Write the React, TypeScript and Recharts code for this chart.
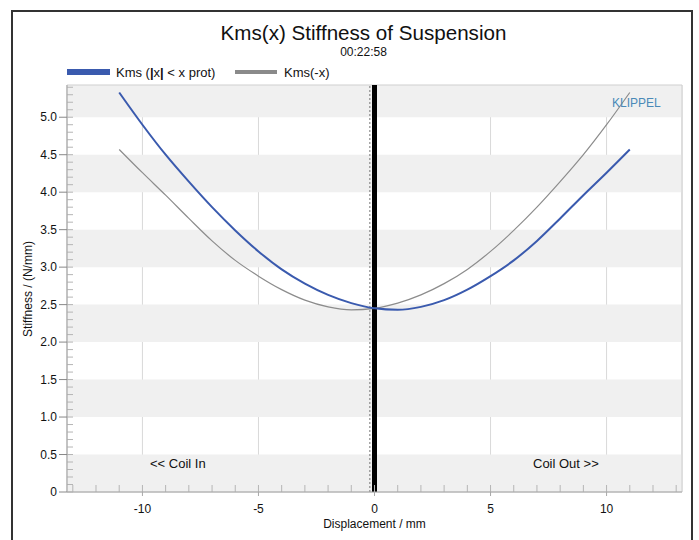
import React from "react";
import {
  LineChart,
  Line,
  XAxis,
  YAxis,
  CartesianGrid,
  ReferenceArea,
  ReferenceLine,
} from "recharts";

// ---- data ----
const displacement = [-11, -10, -9, -8, -7, -6, -5, -4, -3, -2, -1, 0, 1, 2, 3, 4, 5, 6, 7, 8, 9, 10, 11];
const kmsProt = [5.33, 4.9, 4.5, 4.14, 3.8, 3.49, 3.21, 2.97, 2.78, 2.63, 2.52, 2.45, 2.43, 2.47, 2.56, 2.7, 2.88, 3.09, 3.35, 3.65, 3.96, 4.26, 4.57];
const kmsMirror = [4.57, 4.26, 3.96, 3.65, 3.35, 3.09, 2.88, 2.7, 2.56, 2.47, 2.43, 2.45, 2.52, 2.63, 2.78, 2.97, 3.21, 3.49, 3.8, 4.14, 4.5, 4.9, 5.33];

const xTicks = [-10, -5, 0, 5, 10];
const yTicks = [0, 0.5, 1, 1.5, 2, 2.5, 3, 3.5, 4, 4.5, 5];
const xMinorTicks = [-13, -12, -11, -10, -9, -8, -7, -6, -5, -4, -3, -2, -1, 0, 1, 2, 3, 4, 5, 6, 7, 8, 9, 10, 11, 12, 13];
const yMinorTicks = [
  0, 0.1, 0.2, 0.3, 0.4, 0.5, 0.6, 0.7, 0.8, 0.9, 1, 1.1, 1.2, 1.3, 1.4, 1.5, 1.6, 1.7, 1.8, 1.9,
  2, 2.1, 2.2, 2.3, 2.4, 2.5, 2.6, 2.7, 2.8, 2.9, 3, 3.1, 3.2, 3.3, 3.4, 3.5, 3.6, 3.7, 3.8, 3.9,
  4, 4.1, 4.2, 4.3, 4.4, 4.5, 4.6, 4.7, 4.8, 4.9, 5, 5.1, 5.2, 5.3, 5.4,
];
const bandStarts = [0, 1, 2, 3, 4, 5];
const bandEnds = [0.5, 1.5, 2.5, 3.5, 4.5, 5.43];

const xDomain: [number, number] = [-13.25, 13.25];
const yDomain: [number, number] = [0, 5.43];

const rows = displacement.map((x, i) => ({ x, prot: kmsProt[i], mirror: kmsMirror[i] }));

const FONT = "'Liberation Sans', Arial, Helvetica, sans-serif";
const BLUE = "#3a5aae";
const GRAY = "#8c8c8c";

const abs = (left: number, top: number, extra: React.CSSProperties = {}): React.CSSProperties => ({
  position: "absolute",
  left,
  top,
  fontFamily: FONT,
  color: "#111",
  whiteSpace: "nowrap",
  lineHeight: 1,
  ...extra,
});

const noLabel = () => "";

export default function App() {
  return (
    <div
      style={{
        position: "absolute",
        left: 0,
        top: 0,
        width: 699,
        height: 540,
        overflow: "hidden",
        background: "#fff",
        fontFamily: FONT,
      }}
    >
      <div
        style={{
          position: "absolute",
          left: 11,
          top: 10,
          width: 678,
          height: 600,
          border: "2px solid #333",
        }}
      />
      <div style={{ position: "absolute", left: 0, top: 0 }}>
        <LineChart width={699} height={540} data={rows} margin={{ top: 85, right: 17, bottom: 0, left: 0 }}>
          {bandStarts.map((s, i) => (
            <ReferenceArea
              key={"band" + i}
              y1={s}
              y2={bandEnds[i]}
              fill="#f0f0f0"
              fillOpacity={1}
              stroke="none"
              ifOverflow="extendDomain"
            />
          ))}
          <CartesianGrid horizontal={false} vertical={true} stroke="#d9d9d9" />
          <ReferenceArea
            x1={xDomain[0]}
            x2={xDomain[1]}
            y1={yDomain[0]}
            y2={yDomain[1]}
            fill="none"
            stroke="#cfcfcf"
          />
          <XAxis
            xAxisId="minor"
            dataKey="x"
            type="number"
            domain={xDomain}
            allowDataOverflow
            ticks={xMinorTicks}
            interval={0}
            mirror
            height={2}
            axisLine={false}
            tickFormatter={noLabel}
            tick={{ fontSize: 1 }}
            tickSize={7}
            tickLine={{ stroke: "#b5b5b5" }}
          />
          <XAxis
            dataKey="x"
            type="number"
            domain={xDomain}
            allowDataOverflow
            ticks={xTicks}
            interval={0}
            height={48}
            axisLine={{ stroke: "#a8a8a8" }}
            tickLine={{ stroke: "#a8a8a8" }}
            tickSize={4}
            tickMargin={8}
            tick={{ fill: "#111", fontSize: 12, fontFamily: FONT }}
            tickFormatter={(v: number) => String(v)}
          />
          <YAxis
            yAxisId="minor"
            type="number"
            domain={yDomain}
            allowDataOverflow
            ticks={yMinorTicks}
            interval={0}
            mirror
            width={2}
            axisLine={false}
            tickFormatter={noLabel}
            tick={{ fontSize: 1 }}
            tickSize={6}
            tickLine={{ stroke: "#b5b5b5" }}
          />
          <YAxis
            type="number"
            domain={yDomain}
            allowDataOverflow
            ticks={yTicks}
            interval={0}
            width={67}
            axisLine={{ stroke: "#a8a8a8" }}
            tickLine={{ stroke: "#888" }}
            tickSize={8}
            tickMargin={2}
            tick={{ fill: "#111", fontSize: 12, fontFamily: FONT }}
            tickFormatter={(v: number) => (v === 0 ? "0" : v.toFixed(1))}
          />
          <ReferenceLine x={-0.2} stroke="#777" strokeWidth={1} strokeDasharray="2 2" />
          <ReferenceLine x={0} stroke="#000" strokeWidth={5} />
          <Line
            type="monotone"
            dataKey="mirror"
            stroke={GRAY}
            strokeWidth={1.2}
            dot={false}
            isAnimationActive={false}
          />
          <Line
            type="monotone"
            dataKey="prot"
            stroke={BLUE}
            strokeWidth={2}
            dot={false}
            isAnimationActive={false}
          />
        </LineChart>
      </div>

      {/* titles */}
      <div style={abs(363.5, 33, { fontSize: 20.6, transform: "translate(-50%,-50%)" })}>
        Kms(x) Stiffness of Suspension
      </div>
      <div style={abs(363.5, 52, { fontSize: 12, transform: "translate(-50%,-50%)" })}>00:22:58</div>

      {/* legend */}
      <div style={{ position: "absolute", left: 67, top: 69, width: 43, height: 6, background: BLUE }} />
      <div style={abs(116, 72, { fontSize: 13, transform: "translateY(-50%)" })}>
        Kms (<b>|</b>x<b>|</b> &lt; x prot)
      </div>
      <div style={{ position: "absolute", left: 235, top: 70, width: 42, height: 4, background: "#8a8a8a" }} />
      <div style={abs(284, 72, { fontSize: 13, transform: "translateY(-50%)" })}>Kms(-x)</div>

      {/* annotations */}
      <div style={abs(612, 103, { fontSize: 12, color: "#4a8ab8", transform: "translateY(-50%)" })}>KLIPPEL</div>
      <div style={abs(150, 463, { fontSize: 13, transform: "translateY(-50%)" })}>&lt;&lt; Coil In</div>
      <div style={abs(533, 463, { fontSize: 13, transform: "translateY(-50%)" })}>Coil Out &gt;&gt;</div>

      {/* axis titles */}
      <div style={abs(374.5, 524, { fontSize: 12, transform: "translate(-50%,-50%)" })}>Displacement / mm</div>
      <div style={abs(28, 289, { fontSize: 12, transform: "translate(-50%,-50%) rotate(-90deg)" })}>
        Stiffness / (N/mm)
      </div>
    </div>
  );
}
